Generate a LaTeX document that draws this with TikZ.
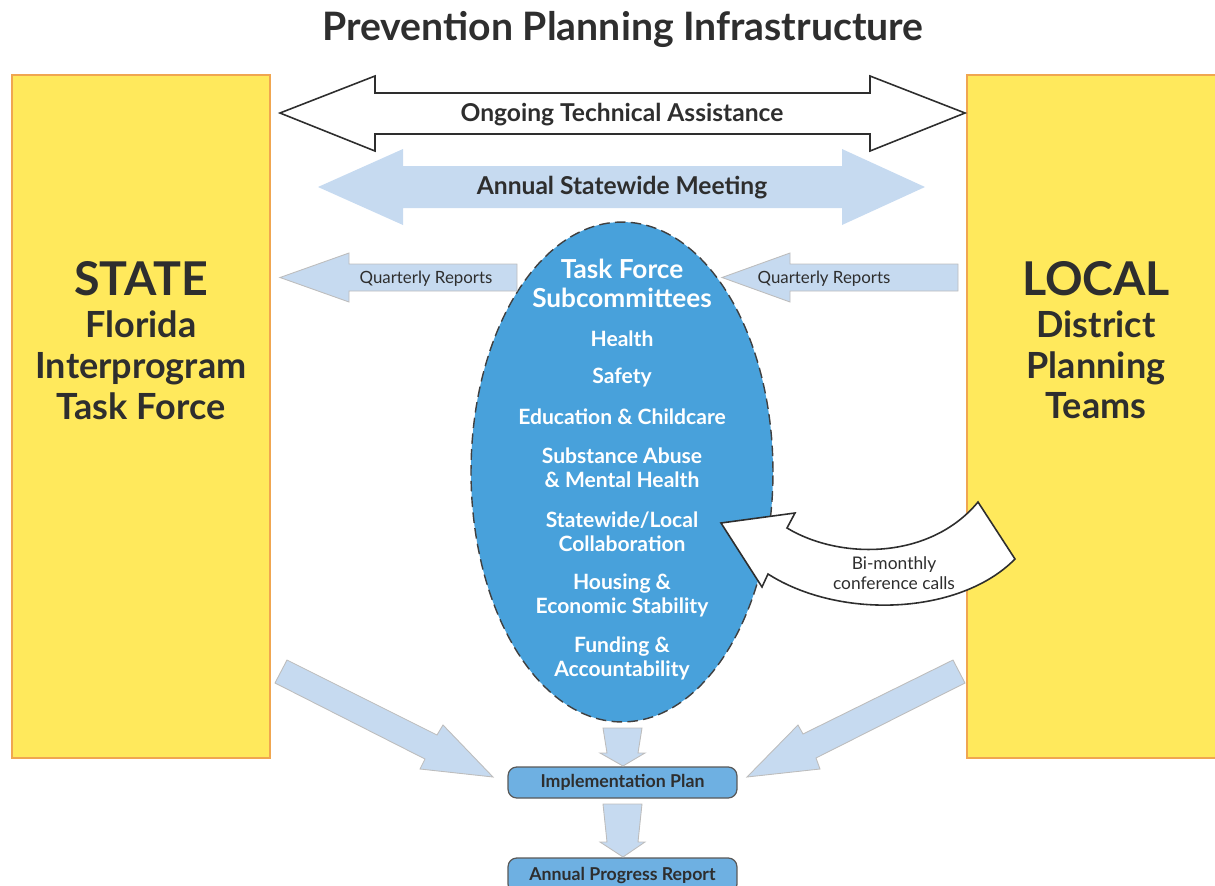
\documentclass[tikz,border=0pt]{standalone}
\usepackage{fontspec}
\setmainfont{Lato}
\usetikzlibrary{shapes.geometric}
\definecolor{inkdark}{HTML}{2E2E2E}
\definecolor{padyellow}{HTML}{FFE95C}
\definecolor{padorange}{HTML}{F0A650}
\definecolor{paleblue}{HTML}{C6DAF0}
\definecolor{paleedge}{HTML}{BDBDBD}
\definecolor{ovalblue}{HTML}{48A1DB}
\definecolor{boxblue}{HTML}{6EB0E2}
\tikzset{
  sidebox/.style={draw=padorange, fill=padyellow, line width=0.8pt, minimum width=5.16cm, minimum height=13.66cm, inner sep=0pt},
  bigword/.style={text=inkdark, font=\fontsize{26.5}{30}\selectfont\bfseries},
  sidetext/.style={text=inkdark, align=center, font=\fontsize{20.5}{23.2}\selectfont\bfseries},
  bartext/.style={text=inkdark, font=\fontsize{14}{16}\selectfont\bfseries},
  qtext/.style={text=inkdark, font=\fontsize{9.6}{11}\selectfont},
  subhead/.style={text=white, align=center, font=\fontsize{14.9}{16.4}\selectfont\bfseries},
  subitem/.style={text=white, align=center, font=\fontsize{12}{13.6}\selectfont\bfseries},
  planbox/.style={draw=black!65, fill=boxblue, line width=0.7pt, rounded corners=5pt, minimum width=4.58cm, minimum height=0.62cm, text=inkdark, font=\fontsize{10.1}{11}\selectfont\bfseries},
  paleblock/.style={fill=paleblue, draw=paleedge, line width=0.5pt, line join=miter},
  whiteblock/.style={fill=white, draw=inkdark, line width=0.9pt, line join=miter}
}
\begin{document}
\begin{tikzpicture}[x=0.02cm, y=-0.02cm]
    \useasboundingbox (0,0) rectangle (1215,886);
    % Titre
    \node[text=inkdark, font=\fontsize{22.3}{25}\selectfont\bfseries] (title) at (623,29) {Prevention Planning Infrastructure};
    % Blocs lateraux
    \node[sidebox] (statebox) at (141,416.5) {};
    \node[sidebox] (localbox) at (1096,416.5) {};
    \node[bigword] (state) at (141,279) {STATE};
    \node[sidetext] (statetf) at (141,365) {Florida\\Interprogram\\Task Force};
    \node[bigword] (local) at (1096,279) {LOCAL};
    \node[sidetext] (localdpt) at (1096,365) {District\\Planning\\Teams};
    % Fleches doubles du haut
    \draw[whiteblock] (280,113) -- (375,76) -- (375,93) -- (870,93) -- (870,76) -- (965,113)
        -- (870,151) -- (870,134) -- (375,134) -- (375,151) -- cycle;
    \node[bartext] (ota) at (622,115) {Ongoing Technical Assistance};
    \draw[paleblock, draw=none] (318,187) -- (403,149) -- (403,166) -- (842,166) -- (842,149) -- (925,187)
        -- (842,225) -- (842,208) -- (403,208) -- (403,225) -- cycle;
    \node[bartext] (asm) at (622,188) {Annual Statewide Meeting};
    % Ellipse des sous-comites
    \node[ellipse, fill=ovalblue, draw=black!75, dash pattern=on 6pt off 3pt, line width=0.8pt,
        minimum width=6.04cm, minimum height=10cm, inner sep=0pt] (sub) at (622,472) {};
    \node[subhead] (tfs) at (622,283.5) {Task Force\\Subcommittees};
    \node[subitem] (health) at (622,339) {Health};
    \node[subitem] (safety) at (622,378) {Safety};
    \node[subitem] (educ) at (622,417) {Education \& Childcare};
    \node[subitem] (subst) at (622,468) {Substance Abuse\\\& Mental Health};
    \node[subitem] (collab) at (622,531.5) {Statewide/Local\\Collaboration};
    \node[subitem] (housing) at (622,595) {Housing \&\\Economic Stability};
    \node[subitem] (funding) at (622,658) {Funding \&\\Accountability};
    % Rapports trimestriels
    \draw[paleblock] (280,277.5) -- (349,253) -- (349,264) -- (517,264) -- (517,291) -- (349,291) -- (349,302) -- cycle;
    \node[qtext] (qleft) at (426,278.5) {Quarterly Reports};
    \draw[paleblock] (722,277.5) -- (790,253) -- (790,264) -- (958,264) -- (958,291) -- (790,291) -- (790,302) -- cycle;
    \node[qtext] (qright) at (824,278.5) {Quarterly Reports};
    % Appels bimensuels
    \draw[whiteblock] (721,523) -- (795,513) -- (787,528) .. controls (840,560) and (930,560) .. (978,502)
        -- (1015,559) .. controls (960,615) and (840,620) .. (768,574) -- (762,587) -- cycle;
    \node[qtext, align=center, font=\fontsize{9.9}{11.3}\selectfont] (calls) at (894,573) {Bi-monthly\\conference calls};
    % Plans et rapports
    \node[planbox] (impl) at (622.5,782.5) {Implementation Plan};
    \node[planbox, minimum height=0.7cm] (progress) at (622.5,875.5) {Annual Progress Report};
    % Fleches vers le bas
    \draw[paleblock] (603,728) -- (642,728) -- (638,753) -- (645,753) -- (623,766) -- (600,753) -- (607,753) -- cycle;
    \draw[paleblock] (603,804) -- (642,804) -- (638,842) -- (645,842) -- (623,857) -- (600,842) -- (607,842) -- cycle;
    % Fleches diagonales
    \draw[paleblock] (287,660) -- (437,735) -- (443,725) -- (493,777) -- (420,769) -- (425,759) -- (275,683) -- cycle;
    \draw[paleblock] (953,660) -- (803,734) -- (798,725) -- (747,777) -- (820,769) -- (816,758) -- (965,683) -- cycle;
\end{tikzpicture}
\end{document}
